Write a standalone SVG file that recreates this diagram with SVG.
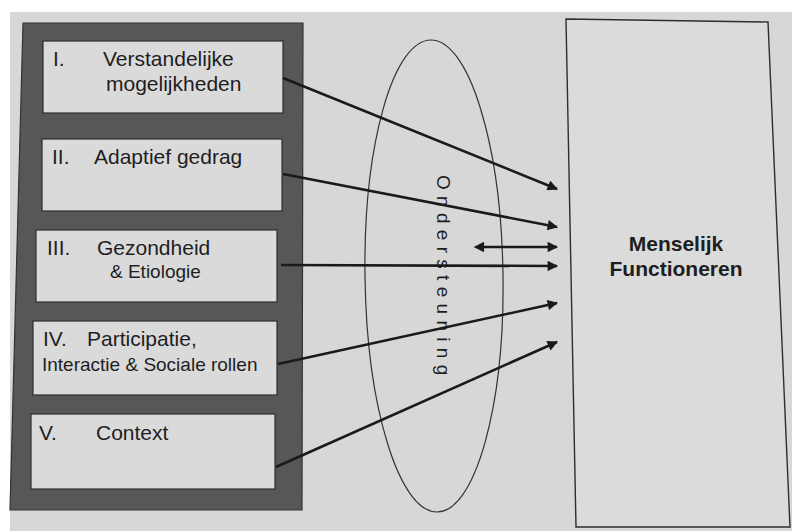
<svg xmlns="http://www.w3.org/2000/svg" width="792" height="531" viewBox="0 0 792 531">
<defs>
<style>
.t{font-family:"Liberation Sans",Arial,sans-serif;fill:#1e1e1e;font-size:21px}
.s{font-size:19px}
.b{font-weight:bold;font-size:21px;text-anchor:middle}
.inner{fill:#dadada;stroke:#2e2e2e;stroke-width:1.2}
.ar{stroke:#1a1a1a;stroke-width:2.6;fill:none;marker-end:url(#ah)}
</style>
<marker id="ah" viewBox="0 0 10 10" refX="9" refY="5" markerWidth="4.4" markerHeight="4" orient="auto" markerUnits="strokeWidth">
<path d="M0,0 L10,5 L0,10 Z" fill="#1a1a1a"/>
</marker>
<marker id="as" viewBox="0 0 10 10" refX="1" refY="5" markerWidth="4.4" markerHeight="4" orient="auto-start-reverse" markerUnits="strokeWidth">
<path d="M0,0 L10,5 L0,10 Z" fill="#1a1a1a"/>
</marker>
</defs>
<rect x="0" y="0" width="792" height="531" fill="#ffffff"/>
<rect x="10" y="12" width="782" height="519" fill="#d7d7d7"/>

<g id="outer">
<polygon points="23,23 303,23 302,510 10,510" fill="#575757" stroke="#333" stroke-width="1.2"/>
</g>
<g id="n1">
<rect class="inner" x="43" y="41" width="240" height="72"/>
<text class="t" x="53" y="66">I.</text>
<text class="t" x="103" y="66">Verstandelijke</text>
<text class="t" x="106" y="91">mogelijkheden</text>
</g>
<g id="n2">
<rect class="inner" x="42" y="139" width="240" height="72"/>
<text class="t" x="52" y="164">II.</text>
<text class="t" x="94" y="164">Adaptief gedrag</text>
</g>
<g id="n3">
<rect class="inner" x="36" y="230" width="241" height="72"/>
<text class="t" x="47" y="255">III.</text>
<text class="t" x="97" y="255">Gezondheid</text>
<text class="t s" x="110" y="278">&amp; Etiologie</text>
</g>
<g id="n4">
<rect class="inner" x="33" y="321" width="244" height="74"/>
<text class="t" x="43" y="346">IV.</text>
<text class="t" x="87" y="346">Participatie,</text>
<text class="t s" x="42" y="371">Interactie &amp; Sociale rollen</text>
</g>
<g id="n5">
<rect class="inner" x="31" y="414" width="244" height="75"/>
<text class="t" x="39" y="440">V.</text>
<text class="t" x="96" y="440">Context</text>
</g>

<g id="ondersteuning">
<ellipse cx="434" cy="276" rx="69" ry="236" fill="none" stroke="#333" stroke-width="1.2" transform="rotate(-0.8 434 276)"/>
<text class="t" style="font-size:19px;letter-spacing:6.3px" transform="translate(437,175) rotate(90)">Ondersteuning</text>
</g>

<g id="menselijk">
<polygon points="566,19 768,22 790,527 576,527" fill="#dbdbdb" stroke="#2e2e2e" stroke-width="1.4"/>
<text class="t b" x="676" y="251">Menselijk</text>
<text class="t b" x="676" y="276">Functioneren</text>
</g>

<g id="connectors">
<line class="ar" x1="283" y1="78" x2="557" y2="189"/>
<line class="ar" x1="283" y1="174" x2="557" y2="227"/>
<line class="ar" x1="483" y1="247" x2="557" y2="247" marker-start="url(#as)"/>
<line class="ar" x1="281" y1="265" x2="557" y2="266"/>
<line class="ar" x1="278" y1="364" x2="557" y2="303"/>
<line class="ar" x1="276" y1="467" x2="557" y2="342"/>
</g>
</svg>
